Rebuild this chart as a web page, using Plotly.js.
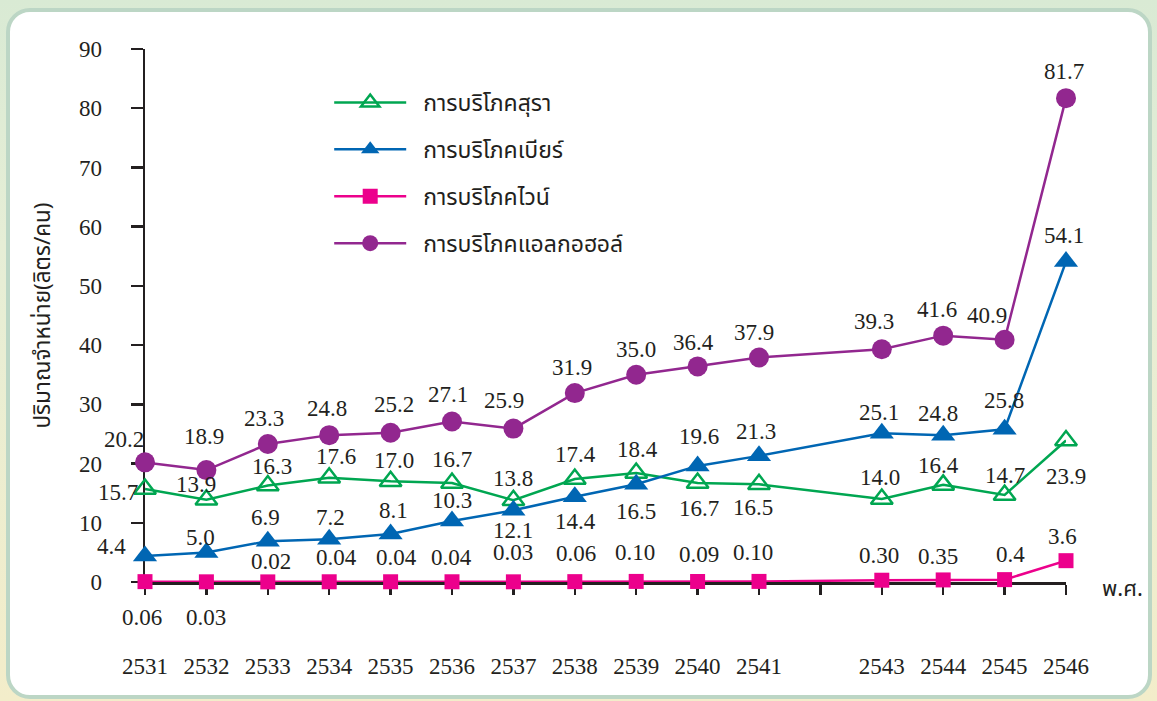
<!DOCTYPE html>
<html><head><meta charset="utf-8">
<script src="https://cdn.plot.ly/plotly-3.0.1.min.js"></script>
<style>
html,body{margin:0;padding:0;width:1157px;height:701px;overflow:hidden;}
body{background:linear-gradient(180deg,#d9eAd4 0%,#e6eed6 35%,#f3edca 100%);position:relative;}
#panel{position:absolute;left:6px;top:8px;width:1146px;height:691px;box-sizing:border-box;border:4px solid #bcd6c5;border-radius:24px;background:#fff;}
#chart{position:absolute;left:0;top:0;width:1157px;height:701px;}
</style></head><body><div id="panel"></div><div id="chart"></div>
<script>
// ---- data ----
const years = [2531, 2532, 2533, 2534, 2535, 2536, 2537, 2538, 2539, 2540, 2541, 2543, 2544, 2545, 2546];
const tickYears = [2531, 2532, 2533, 2534, 2535, 2536, 2537, 2538, 2539, 2540, 2541, 2542, 2543, 2544, 2545, 2546];
const tickLabels = ['2531', '2532', '2533', '2534', '2535', '2536', '2537', '2538', '2539', '2540', '2541', '', '2543', '2544', '2545', '2546'];
const seriesNames = ['การบริโภคสุรา', 'การบริโภคเบียร์', 'การบริโภคไวน์', 'การบริโภคแอลกอฮอล์'];
const spirits = [15.7, 13.9, 16.3, 17.6, 17.0, 16.7, 13.8, 17.4, 18.4, 16.7, 16.5, 14.0, 16.4, 14.7, 23.9];
const beer = [4.4, 5.0, 6.9, 7.2, 8.1, 10.3, 12.1, 14.4, 16.5, 19.6, 21.3, 25.1, 24.8, 25.8, 54.1];
const wine = [0.06, 0.03, 0.02, 0.04, 0.04, 0.04, 0.03, 0.06, 0.10, 0.09, 0.10, 0.30, 0.35, 0.4, 3.6];
const wineLabels = ['0.06', '0.03', '0.02', '0.04', '0.04', '0.04', '0.03', '0.06', '0.10', '0.09', '0.10', '0.30', '0.35', '0.4', '3.6'];
const alcohol = [20.2, 18.9, 23.3, 24.8, 25.2, 27.1, 25.9, 31.9, 35.0, 36.4, 37.9, 39.3, 41.6, 40.9, 81.7];

// ---- label placement (screen px offsets from marker: dx right, dy down) ----
const offSpirits = [[-27,3],[-10,-15],[4,-19],[7,-21],[3,-21],[0,-24],[0,-22],[1,-24],[1,-24],[1,25],[-6,23],[-2,-22],[-5,-19],[0,-19],[0,36]];
const offBeer = [[-34,-9],[-6,-15],[-2,-24],[1,-22],[3,-24],[0,-21],[0,20],[1,25],[0,27],[1,-29],[-3,-24],[-3,-21],[-5,-22],[-1,-29],[-2,-26]];
const offWine = [[-3,36],[0,36],[3,-20],[7,-24],[6,-24],[-1,-24],[0,-29],[1,-28],[-1,-29],[1,-27],[-6,-29],[-3,-25],[-5,-23],[6,-25],[-4,-24]];
const offAlcohol = [[-21,-23],[-2,-34],[-4,-26],[-2,-27],[3,-28],[-4,-27],[-9,-28],[-3,-26],[0,-25],[-4,-24],[-5,-25],[-8,-28],[-6,-26],[-18,-24],[-2,-27]];

const GREEN = '#00a651', BLUE = '#0066b3', PINK = '#ec008c', PURPLE = '#92278f', INK = '#231f20';
const SERIF = 'Liberation Serif';
const THAI = 'Noto Sans Thai, Noto Sans, DejaVu Sans, sans-serif';
const NB = '\u00a0\u00a0';

const traces = [
  {x: years, y: spirits, name: NB + seriesNames[0], legendgroup: 'a', mode: 'lines+markers', cliponaxis: false,
   line: {color: GREEN, width: 2.5}, marker: {symbol: 'triangle-up-open', size: 19, color: GREEN, line: {width: 2.5, color: GREEN}}},
  {x: years, y: beer, name: NB + seriesNames[1], legendgroup: 'b', mode: 'lines+markers', cliponaxis: false,
   line: {color: BLUE, width: 2.5}, marker: {symbol: 'triangle-up', size: 21, color: BLUE}},
  {x: years, y: wine, name: NB + seriesNames[2], legendgroup: 'c', mode: 'lines+markers', cliponaxis: false,
   line: {color: PINK, width: 2.5}, marker: {symbol: 'square', size: 15, color: PINK}},
  {x: years, y: alcohol, name: NB + seriesNames[3], legendgroup: 'd', mode: 'lines+markers', cliponaxis: false,
   line: {color: PURPLE, width: 2.5}, marker: {symbol: 'circle', size: 20, color: PURPLE}}
];

const annotations = [];
function addLabels(vals, texts, offs) {
  vals.forEach((v, i) => {
    annotations.push({x: years[i], y: v, xref: 'x', yref: 'y', text: texts[i], showarrow: false,
      xshift: offs[i][0], yshift: -offs[i][1], font: {family: SERIF, size: 23, color: INK}});
  });
}
addLabels(spirits, spirits.map(v => v.toFixed(1)), offSpirits);
addLabels(beer, beer.map(v => v.toFixed(1)), offBeer);
addLabels(wine, wineLabels, offWine);
addLabels(alcohol, alcohol.map(v => v.toFixed(1)), offAlcohol);
annotations.push({x: 1.061, y: -0.015, xref: 'paper', yref: 'paper', xanchor: 'center', yanchor: 'middle',
  text: 'พ.ศ.', showarrow: false, font: {family: THAI, size: 22, color: INK}});

const layout = {
  width: 1157, height: 701,
  margin: {l: 145, r: 91, t: 49, b: 119},
  paper_bgcolor: 'rgba(0,0,0,0)', plot_bgcolor: 'rgba(0,0,0,0)',
  showlegend: true,
  legend: {x: 0.2, y: 0.94, xanchor: 'left', yanchor: 'top', bgcolor: 'rgba(0,0,0,0)',
    font: {family: THAI, size: 23, color: INK}, itemwidth: 72, tracegroupgap: 14, traceorder: 'grouped'},
  xaxis: {range: [2531, 2546], tickvals: tickYears, ticktext: tickLabels, showgrid: false, zeroline: false,
    showline: true, linecolor: INK, linewidth: 2.5, ticks: 'outside', ticklen: 10, tickwidth: 2.5, tickcolor: INK,
    ticklabelstandoff: 52, tickfont: {family: SERIF, size: 23, color: INK}, layer: 'below traces', fixedrange: true},
  yaxis: {range: [0, 90], dtick: 10, tick0: 0, showgrid: false, zeroline: false,
    showline: true, linecolor: INK, linewidth: 2.5, ticks: 'outside', ticklen: 12, tickwidth: 2.5, tickcolor: INK,
    ticklabelstandoff: 24, tickfont: {family: SERIF, size: 23, color: INK}, layer: 'below traces',
    title: {text: 'ปริมาณจำหน่าย(ลิตร/คน)', font: {family: THAI, size: 22.5, color: INK}, standoff: 22}},
  annotations: annotations
};
Plotly.newPlot('chart', traces, layout, {displayModeBar: false, staticPlot: true});
</script></body></html>
